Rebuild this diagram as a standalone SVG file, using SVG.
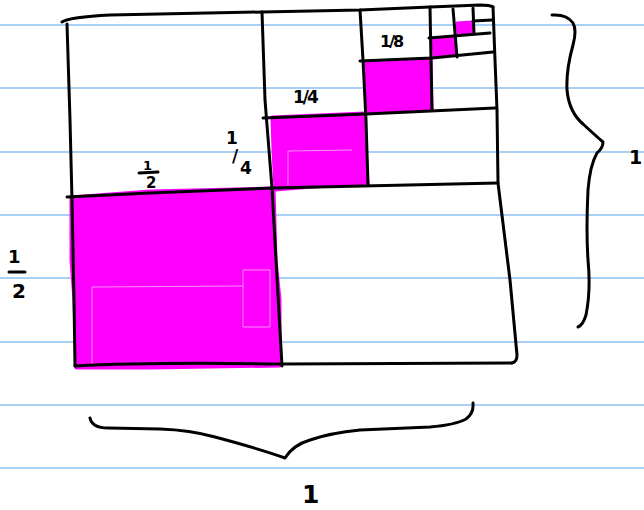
<svg xmlns="http://www.w3.org/2000/svg" width="644" height="510" viewBox="0 0 644 510">
<style>
.rule{stroke:#a8d0f6;stroke-width:2;fill:none}
.ink{stroke:#000;stroke-width:3;fill:none;stroke-linecap:round;stroke-linejoin:round}
.fill{fill:#ff00ff;stroke:#ff00ff;stroke-width:3;stroke-linejoin:round}
.ghost{stroke:#ff8cff;stroke-width:1;fill:none}
.t{font-family:"DejaVu Sans",sans-serif;font-weight:bold;fill:#000}
</style>
<rect width="644" height="510" fill="#fff"/>
<g id="ruled-paper">
<line class="rule" x1="0" y1="25" x2="644" y2="25"/>
<line class="rule" x1="0" y1="88" x2="644" y2="88"/>
<line class="rule" x1="0" y1="152" x2="644" y2="152"/>
<line class="rule" x1="0" y1="215" x2="644" y2="215"/>
<line class="rule" x1="0" y1="278" x2="644" y2="278"/>
<line class="rule" x1="0" y1="342" x2="644" y2="342"/>
<line class="rule" x1="0" y1="405" x2="644" y2="405"/>
<line class="rule" x1="0" y1="468" x2="644" y2="468"/>
</g>
<g id="shaded">
<path class="fill" d="M71,197 L150,191 L274,188 L276,260 L280,300 L280,366 L150,368 L76,368 L74,300 L71,260 Z"/>
<path class="fill" d="M272,117 L365,113 L366,150 L368,183 L300,188 L275,190 L273,150 Z"/>
<path class="fill" d="M364,62 L431,59 L432,110 L366,113 Z"/>
<path class="fill" d="M433,38 L455,37 L456,55 L434,57 Z"/>
<path class="fill" d="M457,23 L473,22 L473,33 L458,34 Z"/>
<path class="ghost" d="M92,365 L92,287 L243,286 M243,270 L270,270 L270,327 L243,327 Z"/>
<path class="ghost" d="M288,185 L288,151 L352,150"/>
</g>
<g id="connectors">
<path class="ink" d="M62,22 Q70,17 110,15 L262,12 L360,10 L430,7 L480,5 Q490,5 493,7"/>
<path class="ink" d="M493,7 L495,60 L497,110 L498,183 L510,280 L517,355 Q517,362 512,363"/>
<path class="ink" d="M75,366 Q150,362 282,364 L512,363"/>
<path class="ink" d="M67,24 L70,120 L72,200 L74,300 L75,366"/>
<path class="ink" d="M262,12 L265,100 L272,188 L276,260 L282,366"/>
<path class="ink" d="M67,197 L150,193 L273,188 L498,183"/>
<path class="ink" d="M360,10 L363,60 L366,120 L368,185"/>
<path class="ink" d="M263,118 L366,114 L495,108"/>
<path class="ink" d="M430,7 L431,60 L432,110"/>
<path class="ink" d="M360,61 L432,58 L493,52"/>
<path class="ink" d="M429,38 L490,33"/>
<path class="ink" d="M453,9 L457,57"/>
<path class="ink" d="M473,8 L474,33"/>
<path class="ink" d="M473,21 L492,20"/>
</g>
<g id="brace-right">
<path class="ink" d="M552,15 Q567,14 573,23 Q577,30 573,45 Q566,70 567,90 Q569,112 583,124 Q596,136 603,142 Q603,148 597,153 Q590,165 588,190 Q586,230 588,260 Q591,290 586,315 Q583,325 578,327"/>
</g>
<g id="brace-bottom">
<path class="ink" d="M90,418 Q92,428 108,428 L160,429 Q190,430 215,437 Q260,449 285,458 Q293,445 310,440 Q330,433 360,430 L430,427 Q455,425 466,419 Q474,413 473,403"/>
</g>
<g id="labels">
<text class="t" x="143" y="170" font-size="13">1</text>
<line class="ink" x1="139" y1="173" x2="158" y2="172" stroke-width="2.5"/>
<text class="t" x="146" y="188" font-size="15">2</text>
<text class="t" x="8" y="263" font-size="18">1</text>
<line class="ink" x1="9" y1="272" x2="25" y2="272" stroke-width="2.5"/>
<text class="t" x="12" y="298" font-size="20">2</text>
<text class="t" font-size="17"><tspan x="226" y="144">1</tspan><tspan x="232" y="162">/</tspan><tspan x="240" y="174">4</tspan></text>
<text class="t" x="293" y="103" font-size="17" letter-spacing="-2">1/4</text>
<text class="t" x="380" y="47" font-size="16" letter-spacing="-2">1/8</text>
<text class="t" x="302" y="503" font-size="25">1</text>
<text class="t" x="629" y="164" font-size="19">1</text>
</g>
</svg>
